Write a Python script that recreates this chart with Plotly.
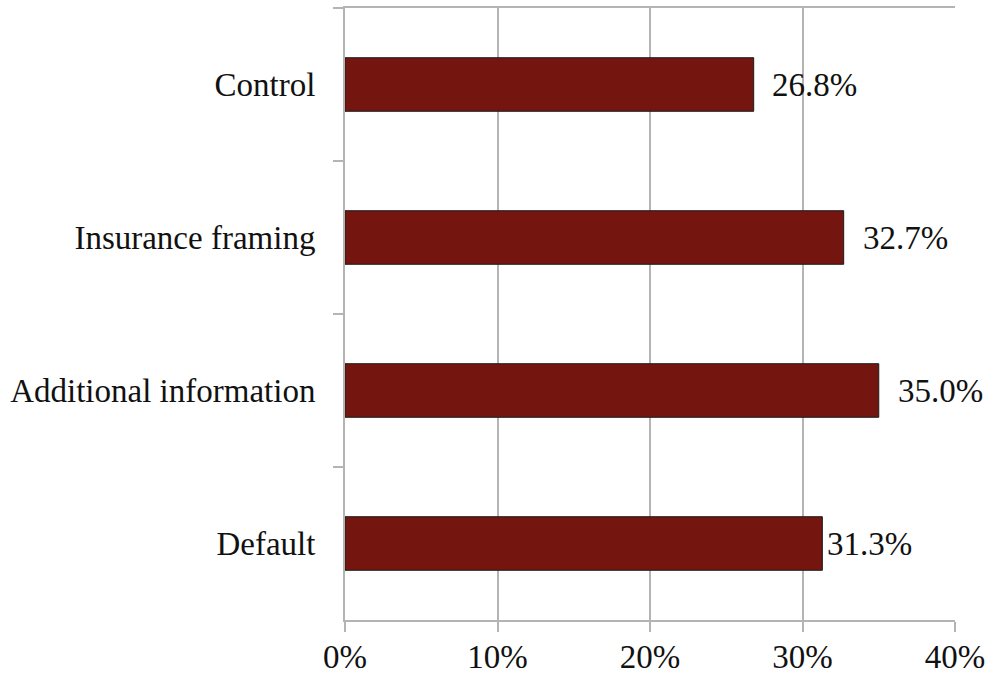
import plotly.graph_objects as go

categories = ["Control", "Insurance framing", "Additional information", "Default"]
values = [26.8, 32.7, 35.0, 31.3]
x_ticks = [0, 10, 20, 30, 40]
x_tick_labels = ["0%", "10%", "20%", "30%", "40%"]
label_gaps_px = [16, 17, 17, 3]

font_family = "Liberation Serif, Times New Roman, serif"
grid_color = "#b4b4b4"
text_color = "#111111"
fsize = 33

fig = go.Figure(
    go.Bar(
        y=categories,
        x=values,
        orientation="h",
        width=0.35,
        marker=dict(color="#74150f", line=dict(color="#1a1a1a", width=1)),
    )
)

for cat, v, gap in zip(categories, values, label_gaps_px):
    fig.add_annotation(
        x=v, y=cat, xref="x", yref="y",
        text=f"{v:.1f}%",
        showarrow=False,
        xanchor="left", yanchor="middle",
        xshift=gap,
        font=dict(family=font_family, size=fsize, color=text_color),
    )

fig.update_layout(
    width=989,
    height=677,
    margin=dict(l=345, r=34, t=8, b=57),
    paper_bgcolor="white",
    plot_bgcolor="white",
    showlegend=False,
    font=dict(family=font_family, size=fsize, color=text_color),
    xaxis=dict(
        range=[0, 40],
        tickvals=x_ticks,
        ticktext=x_tick_labels,
        showgrid=True,
        gridcolor=grid_color,
        gridwidth=2,
        zeroline=False,
        showline=True,
        linecolor=grid_color,
        linewidth=2,
        mirror=True,
        ticks="outside",
        ticklen=10,
        tickwidth=2,
        tickcolor=grid_color,
        ticklabelstandoff=-4,
        tickfont=dict(family=font_family, size=fsize, color=text_color),
        automargin=False,
        fixedrange=True,
    ),
    yaxis=dict(
        type="category",
        categoryorder="array",
        categoryarray=categories,
        autorange="reversed",
        tickson="boundaries",
        ticks="outside",
        ticklen=10,
        tickwidth=2,
        tickcolor=grid_color,
        showgrid=False,
        showline=True,
        linecolor=grid_color,
        linewidth=2,
        ticklabelstandoff=21,
        tickfont=dict(family=font_family, size=fsize, color=text_color),
        automargin=False,
        fixedrange=True,
    ),
)

fig.write_html("out.html")
